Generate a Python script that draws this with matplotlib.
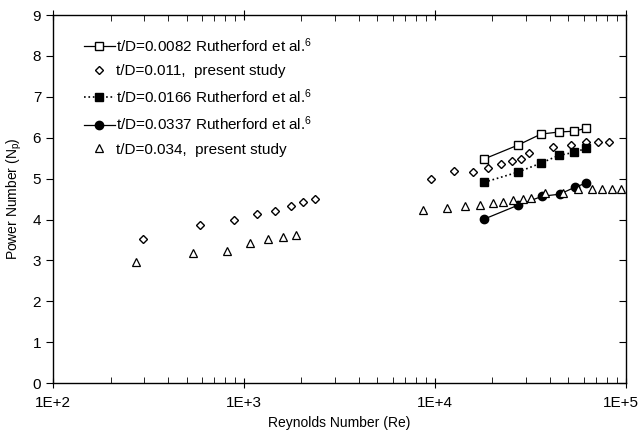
import numpy as np
import matplotlib
matplotlib.use("Agg")
import matplotlib.pyplot as plt
import matplotlib.transforms as mtransforms
from matplotlib.ticker import FuncFormatter, LogLocator

plt.rcParams['font.family'] = ['Liberation Sans', 'DejaVu Sans']
plt.rcParams['mathtext.fontset'] = 'custom'
plt.rcParams['mathtext.rm'] = 'Liberation Sans'
plt.rcParams['mathtext.it'] = 'Liberation Sans:italic'

# t/D=0.0082 Rutherford et al.
re_r1 = [18070, 27200, 35900, 44600, 53400, 61800]
np_r1 = [5.48, 5.82, 6.09, 6.14, 6.16, 6.23]
# t/D=0.011 present study
re_p1 = [296, 589, 887, 1170, 1452, 1762, 2037, 2355,
         9530, 12570, 15810, 18930, 22180, 25300, 28200, 31060,
         41500, 51500, 61800, 71300, 81400]
np_p1 = [3.53, 3.87, 3.98, 4.14, 4.21, 4.34, 4.43, 4.50,
         4.99, 5.18, 5.16, 5.26, 5.35, 5.43, 5.47, 5.62,
         5.77, 5.82, 5.89, 5.90, 5.90]
# t/D=0.0166 Rutherford et al.
re_r2 = [18070, 27200, 35900, 44600, 53400, 61800]
np_r2 = [4.91, 5.16, 5.38, 5.57, 5.64, 5.74]
# t/D=0.0337 Rutherford et al.
re_r3 = [18070, 27200, 36500, 45000, 54000, 61800]
np_r3 = [4.01, 4.35, 4.57, 4.62, 4.79, 4.89]
# t/D=0.034 present study
re_p2 = [272, 541, 815, 1075, 1337, 1600, 1870,
         8650, 11560, 14360, 17200, 20140, 22710, 25600, 28900, 31800,
         37700, 46800, 56100, 66400, 74800, 84500, 94200]
np_p2 = [2.97, 3.18, 3.23, 3.42, 3.52, 3.57, 3.62,
         4.23, 4.28, 4.33, 4.35, 4.40, 4.43, 4.47, 4.49, 4.52,
         4.64, 4.65, 4.74, 4.74, 4.74, 4.74, 4.74]

fig = plt.figure(figsize=(6.42, 4.30), dpi=100)
ax = fig.add_axes([0.0826, 0.109, 0.8924, 0.856])

ax.plot(re_r1, np_r1, '-s', color='black', mfc='white', ms=6, lw=0.9,
        label='t/D=0.0082 Rutherford et al.$^{6}$')
ax.plot(re_p1, np_p1, 'D', color='black', mfc='white', ms=4.5, mew=1.0, ls='none',
        label='t/D=0.011,  present study')
ax.plot(re_r2, np_r2, ':s', color='black', mfc='black', ms=6, lw=1.2,
        label='t/D=0.0166 Rutherford et al.$^{6}$')
ax.plot(re_r3, np_r3, '-o', color='black', mfc='black', ms=6, lw=0.9,
        label='t/D=0.0337 Rutherford et al.$^{6}$')
ax.plot(re_p2, np_p2, '^', color='black', mfc='white', ms=5.5, mew=0.9, ls='none',
        label='t/D=0.034,  present study')

ax.set_xscale('log')
ax.set_xlim(1e2, 1e5)
ax.set_ylim(0, 9)
ax.set_yticks(np.arange(0, 10, 1))
ax.xaxis.set_major_formatter(FuncFormatter(lambda v, p: '1E+%d' % round(np.log10(v))))
ax.xaxis.set_minor_locator(LogLocator(base=10, subs=np.arange(2, 10)))
ax.xaxis.set_minor_formatter(FuncFormatter(lambda v, p: ''))

ax.tick_params(axis='x', which='major', direction='inout', length=7, top=True,
               labelsize=11, pad=6)
ax.tick_params(axis='x', which='minor', direction='in', length=4, top=True)
ax.tick_params(axis='y', which='major', direction='out', length=5, right=True,
               labelsize=11)
for t in ax.yaxis.get_major_ticks():
    t.tick2line.set_marker(matplotlib.markers.TICKLEFT)

for s in ax.spines.values():
    s.set_linewidth(1.0)

ax.set_xlabel('Reynolds Number (Re)', fontsize=10, labelpad=4)
ax.set_ylabel('Power Number (N$_\\mathrm{p}$)', fontsize=10, labelpad=6)

ax.legend(loc='upper left', bbox_to_anchor=(0.03, 0.98), frameon=False,
          fontsize=11, handlelength=2.0, handletextpad=0.1, labelspacing=0.6)

# keep the 1E+5 label inside the figure
fig.canvas.draw()
for lab in ax.get_xticklabels():
    if lab.get_text() == '1E+5':
        lab.set_transform(lab.get_transform() +
                          mtransforms.ScaledTranslation(-5 / 100, 0, fig.dpi_scale_trans))

fig.savefig('out.png', dpi=100)
